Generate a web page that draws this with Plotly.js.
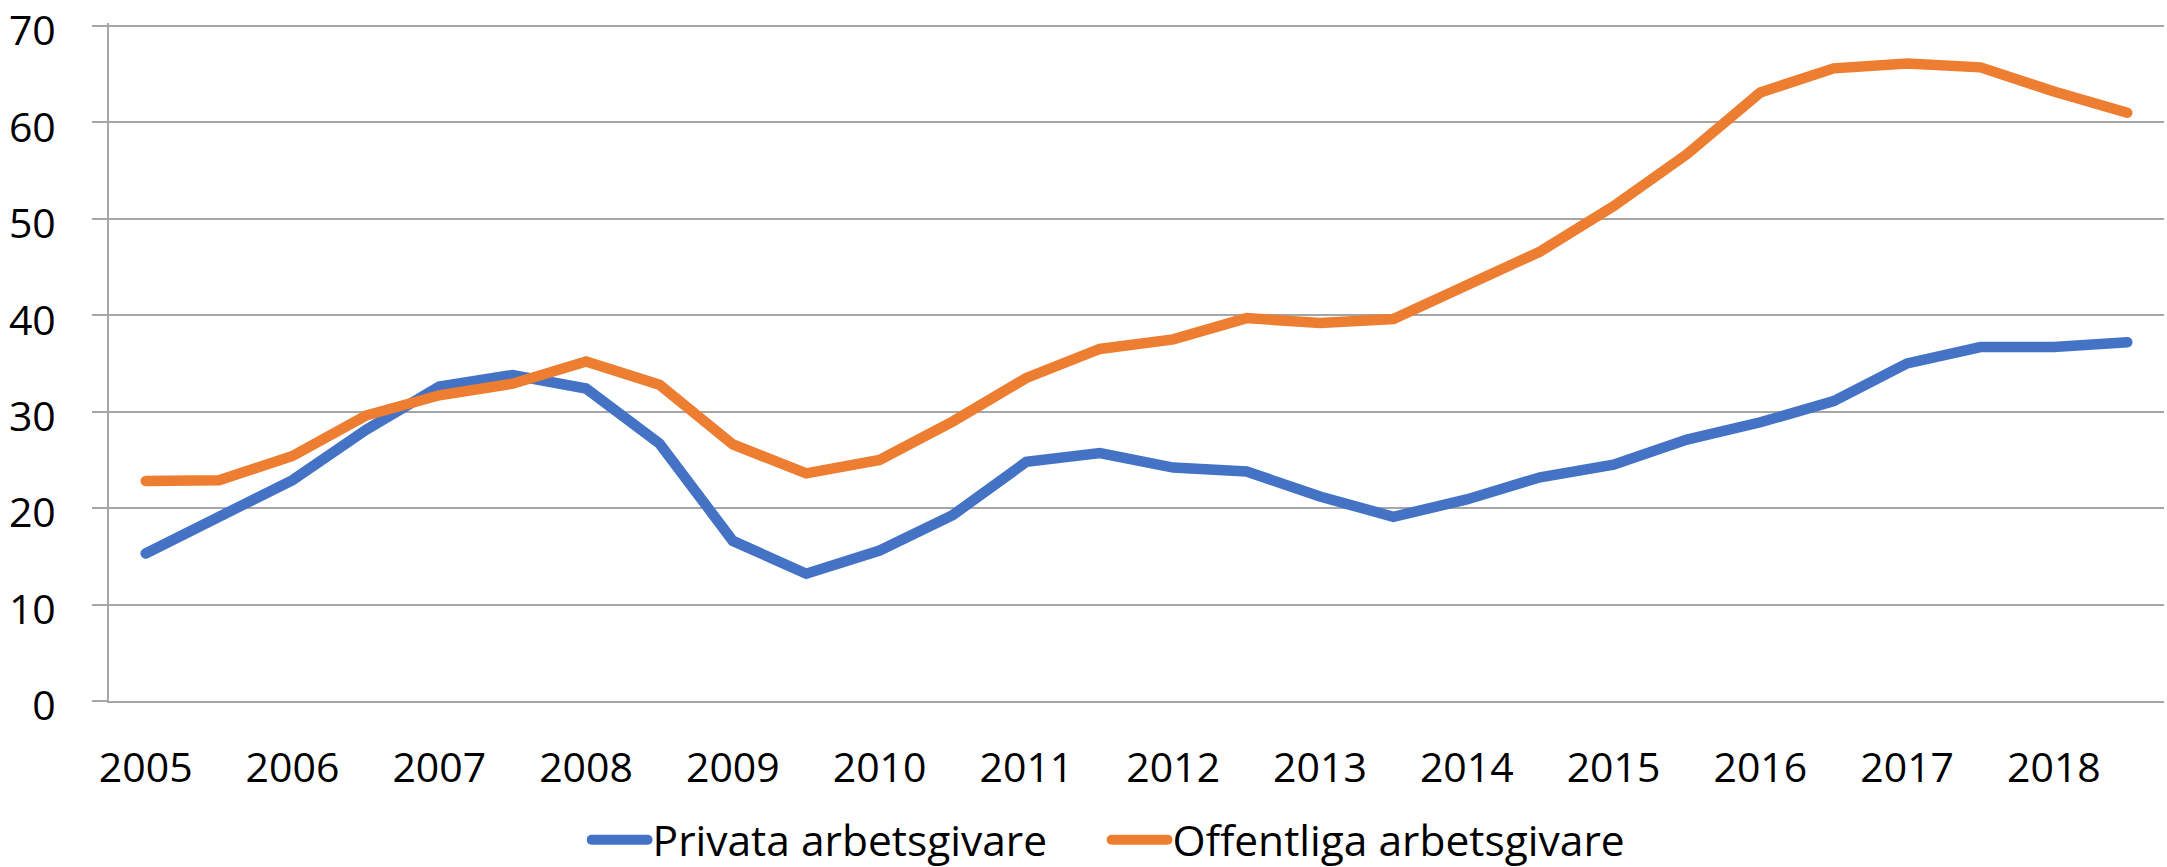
<!DOCTYPE html>
<html>
<head>
<meta charset="utf-8">
<script src="https://cdn.plot.ly/plotly-3.0.1.min.js"></script>
<style>
html, body { margin: 0; padding: 0; background: #ffffff; }
#chart { width: 2167px; height: 867px; }
.scatterlayer path.js-line { stroke-linecap: round; }
.legend path.js-line { stroke-linecap: round; }
</style>
</head>
<body>
<div id="chart"></div>
<script>
// Half-year periods, 2005 H1 .. 2018 H2
const periods = [
  "2005 H1","2005 H2","2006 H1","2006 H2","2007 H1","2007 H2","2008 H1","2008 H2",
  "2009 H1","2009 H2","2010 H1","2010 H2","2011 H1","2011 H2","2012 H1","2012 H2",
  "2013 H1","2013 H2","2014 H1","2014 H2","2015 H1","2015 H2","2016 H1","2016 H2",
  "2017 H1","2017 H2","2018 H1","2018 H2"
];
const yearLabels = ["2005","2006","2007","2008","2009","2010","2011","2012","2013","2014","2015","2016","2017","2018"];
const yearTickPeriods = ["2005 H1","2006 H1","2007 H1","2008 H1","2009 H1","2010 H1","2011 H1","2012 H1","2013 H1","2014 H1","2015 H1","2016 H1","2017 H1","2018 H1"];

const privata = [
  15.3, 19.0, 22.9, 28.1, 32.6, 33.8, 32.4, 26.7,
  16.6, 13.2, 15.6, 19.3, 24.8, 25.7, 24.2, 23.8,
  21.2, 19.1, 20.9, 23.2, 24.5, 27.1, 28.9, 31.1,
  35.0, 36.7, 36.7, 37.2
];
const offentliga = [
  22.8, 22.9, 25.4, 29.6, 31.7, 32.9, 35.2, 32.8,
  26.6, 23.6, 25.0, 29.0, 33.5, 36.5, 37.5, 39.7,
  39.2, 39.6, 43.1, 46.6, 51.3, 56.7, 63.1, 65.6,
  66.1, 65.7, 63.2, 61.0
];
const yTicks = [0, 10, 20, 30, 40, 50, 60, 70];

const FONT = "'Open Sans', 'Noto Sans', sans-serif";
const GRID = "#a6a6a6";

const traces = [
  {
    x: periods, y: privata, type: "scatter", mode: "lines",
    name: "Privata arbetsgivare",
    line: { color: "#4472C4", width: 10.5 }
  },
  {
    x: periods, y: offentliga, type: "scatter", mode: "lines",
    name: "Offentliga arbetsgivare",
    line: { color: "#ED7D31", width: 10.5 }
  }
];

const layout = {
  width: 2167, height: 867,
  margin: { l: 109, r: 3, t: 23, b: 166 },
  paper_bgcolor: "#ffffff",
  plot_bgcolor: "#ffffff",
  font: { family: FONT, size: 41, color: "#000000" },
  showlegend: true,
  legend: {
    orientation: "h",
    x: 0.2324, xanchor: "left",
    yref: "container",
    y: 0.031, yanchor: "middle",
    font: { family: FONT, size: 42.5, color: "#000000" },
    entrywidth: 449,
    entrywidthmode: "pixels",
    itemwidth: 56,
    bgcolor: "rgba(0,0,0,0)"
  },
  xaxis: {
    type: "category",
    categoryorder: "array",
    categoryarray: periods,
    range: [-0.5, periods.length - 0.5],
    tickmode: "array",
    tickvals: yearTickPeriods,
    ticktext: yearLabels,
    ticks: "",
    showgrid: false,
    showline: true,
    linecolor: GRID,
    linewidth: 2,
    zeroline: false,
    ticklabelstandoff: 30,
    ticklabeloverflow: "allow",
    tickfont: { family: FONT, size: 41, color: "#000000" },
    fixedrange: true
  },
  yaxis: {
    range: [0, 70.3],
    tickmode: "array",
    tickvals: yTicks,
    ticktext: yTicks.map(String),
    ticks: "outside",
    ticklen: 15,
    tickwidth: 2,
    tickcolor: GRID,
    showgrid: true,
    gridcolor: GRID,
    gridwidth: 2,
    showline: true,
    linecolor: GRID,
    linewidth: 2,
    zeroline: false,
    ticklabelstandoff: 28,
    ticklabelshift: 5,
    ticklabeloverflow: "allow",
    tickfont: { family: FONT, size: 41, color: "#000000" },
    fixedrange: true
  }
};

Plotly.newPlot("chart", traces, layout, { displayModeBar: false, staticPlot: true });
</script>
</body>
</html>
